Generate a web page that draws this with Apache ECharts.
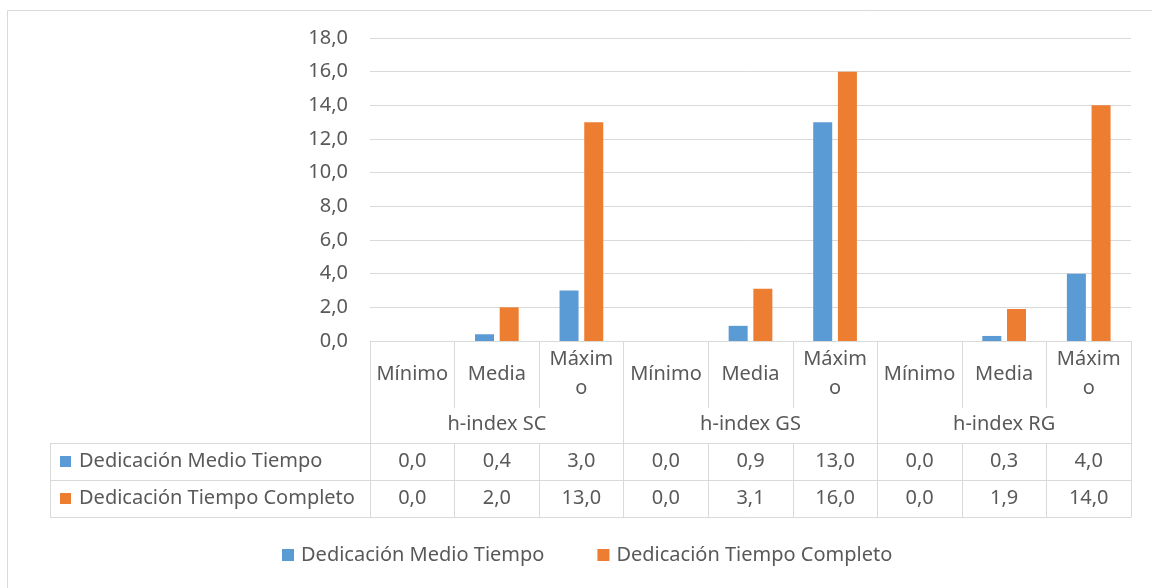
<!DOCTYPE html>
<html>
<head>
<meta charset="utf-8">
<script src="https://cdn.jsdelivr.net/npm/echarts@6/dist/echarts.min.js"></script>
<style>
html,body{margin:0;padding:0;background:#fff;}
#chart{width:1152px;height:588px;}
</style>
</head>
<body>
<div id="chart"></div>
<script>
const categories = ['Mínimo','Media','Máximo','Mínimo','Media','Máximo','Mínimo','Media','Máximo'];
const groups = ['h-index SC','h-index GS','h-index RG'];
const seriesNames = ['Dedicación Medio Tiempo','Dedicación Tiempo Completo'];
const medio = [0.0, 0.4, 3.0, 0.0, 0.9, 13.0, 0.0, 0.3, 4.0];
const completo = [0.0, 2.0, 13.0, 0.0, 3.1, 16.0, 0.0, 1.9, 14.0];
const yMin = 0, yMax = 18, yInterval = 2;

const colors = ['#5b9bd5', '#ed7d31'];
const txt = '#595959';
const lineC = '#d9d9d9';
const FONT = 'Noto Sans';
const FS = 20;
const fmt = v => v.toFixed(1).replace('.', ',');

const chart = echarts.init(document.getElementById('chart'));

const gridTop = 38, gridBottomY = 341;
const tableLeft = 50, tableLabelRight = 370;
const rowTop = 443, rowMid = 480, rowBot = 517;

const baseLabel = {color: txt, fontFamily: FONT, fontSize: FS};

const option = {
  animation: false,
  backgroundColor: '#fff',
  color: colors,
  textStyle: {fontFamily: FONT},
  grid: {left: tableLabelRight, right: 21, top: gridTop, bottom: 588 - gridBottomY, containLabel: false},
  legend: {
    data: seriesNames,
    left: 277, top: 540,
    icon: 'rect', itemWidth: 12, itemHeight: 12, itemGap: 53,
    textStyle: Object.assign({}, baseLabel, {padding: [0, 0, 0, 2]})
  },
  xAxis: [
    {
      type: 'category', data: categories, position: 'bottom',
      axisLine: {show: true, lineStyle: {color: lineC, width: 1}},
      axisTick: {show: true, length: 67, lineStyle: {color: lineC}},
      axisLabel: Object.assign({}, baseLabel, {
        interval: 0, margin: 33, verticalAlign: 'middle', lineHeight: 29,
        formatter: v => v === 'Máximo' ? 'Máxim\no' : v
      })
    },
    {
      type: 'category', data: groups, position: 'bottom', offset: 67,
      axisLine: {show: false},
      axisTick: {show: true, length: 35, lineStyle: {color: lineC}},
      axisLabel: Object.assign({}, baseLabel, {interval: 0, margin: 16, verticalAlign: 'middle'})
    },
    {
      type: 'category', data: categories, position: 'bottom', offset: rowTop - gridBottomY,
      axisLine: {show: true, lineStyle: {color: lineC}},
      axisTick: {show: true, length: rowMid - rowTop, lineStyle: {color: lineC}},
      axisLabel: Object.assign({}, baseLabel, {interval: 0, margin: (rowMid - rowTop) / 2, verticalAlign: 'middle',
        formatter: (v, i) => fmt(medio[i])})
    },
    {
      type: 'category', data: categories, position: 'bottom', offset: rowMid - gridBottomY,
      axisLine: {show: true, lineStyle: {color: lineC}},
      axisTick: {show: true, length: rowBot - rowMid, lineStyle: {color: lineC}},
      axisLabel: Object.assign({}, baseLabel, {interval: 0, margin: (rowBot - rowMid) / 2, verticalAlign: 'middle',
        formatter: (v, i) => fmt(completo[i])})
    },
    {
      type: 'category', data: categories, position: 'bottom', offset: rowBot - gridBottomY,
      axisLine: {show: true, lineStyle: {color: lineC}},
      axisTick: {show: false}, axisLabel: {show: false}
    }
  ],
  yAxis: {
    type: 'value', min: yMin, max: yMax, interval: yInterval,
    axisLine: {show: false}, axisTick: {show: false},
    splitLine: {lineStyle: {color: lineC, width: 1}},
    axisLabel: Object.assign({}, baseLabel, {margin: 22, formatter: v => fmt(v)})
  },
  series: [
    {name: seriesNames[0], type: 'bar', data: medio, barWidth: 19, barGap: '30%', xAxisIndex: 0},
    {name: seriesNames[1], type: 'bar', data: completo, barWidth: 19, barGap: '30%', xAxisIndex: 0}
  ],
  graphic: [
    {type: 'rect', shape: {x: 7.5, y: 10.5, width: 1200, height: 700}, style: {fill: 'none', stroke: lineC, lineWidth: 1}, silent: true},
    {type: 'line', shape: {x1: tableLeft, y1: rowTop + 0.5, x2: tableLabelRight, y2: rowTop + 0.5}, style: {stroke: lineC, lineWidth: 1}},
    {type: 'line', shape: {x1: tableLeft, y1: rowMid + 0.5, x2: tableLabelRight, y2: rowMid + 0.5}, style: {stroke: lineC, lineWidth: 1}},
    {type: 'line', shape: {x1: tableLeft, y1: rowBot + 0.5, x2: tableLabelRight, y2: rowBot + 0.5}, style: {stroke: lineC, lineWidth: 1}},
    {type: 'line', shape: {x1: tableLeft + 0.5, y1: rowTop, x2: tableLeft + 0.5, y2: rowBot}, style: {stroke: lineC, lineWidth: 1}},
    {type: 'rect', shape: {x: 60, y: (rowTop + rowMid) / 2 - 5.5, width: 11, height: 11}, style: {fill: colors[0]}},
    {type: 'rect', shape: {x: 60, y: (rowMid + rowBot) / 2 - 5.5, width: 11, height: 11}, style: {fill: colors[1]}},
    {type: 'text', x: 79, y: (rowTop + rowMid) / 2, style: {text: seriesNames[0], fill: txt, font: FS + 'px "' + FONT + '"', verticalAlign: 'middle'}},
    {type: 'text', x: 79, y: (rowMid + rowBot) / 2, style: {text: seriesNames[1], fill: txt, font: FS + 'px "' + FONT + '"', verticalAlign: 'middle'}}
  ]
};
chart.setOption(option);
</script>
</body>
</html>
